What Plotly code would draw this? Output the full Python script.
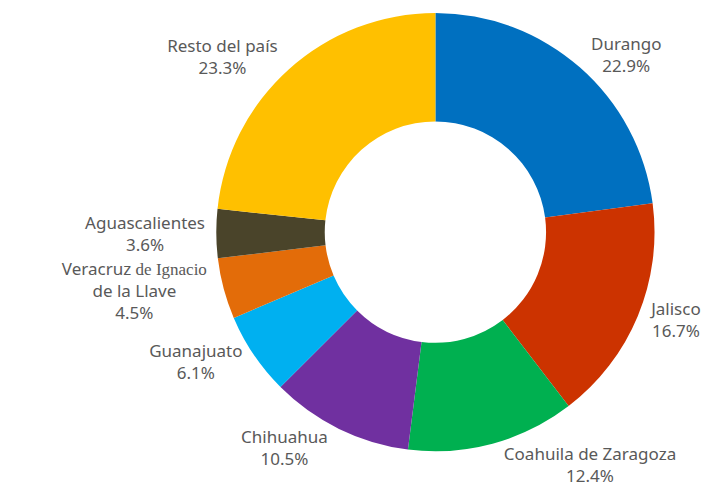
import plotly.graph_objects as go

labels = ["Durango", "Jalisco", "Coahuila de Zaragoza", "Chihuahua", "Guanajuato",
          "Veracruz <span style='font-family:Liberation Serif'>de Ignacio</span><br>de la Llave",
          "Aguascalientes", "Resto del país"]
values = [22.9, 16.7, 12.4, 10.5, 6.1, 4.5, 3.6, 23.3]
colors = ["#0070C0", "#CC3300", "#00B050", "#7030A0", "#00B0F0", "#E36C09", "#4A442A", "#FFC000"]

fig = go.Figure(go.Pie(
    labels=labels, values=values, hole=0.505, sort=False, direction="clockwise",
    rotation=0,
    marker=dict(colors=colors, line=dict(color="white", width=0)),
    textposition="outside",
    texttemplate="%{label}<br>%{value:.1f}%",
    textfont=dict(family="Noto Sans", size=17, color="#595959"),
    showlegend=False,
    domain=dict(x=[0.2804, 0.8954], y=[0.121, 0.994]),
))
fig.update_layout(width=727, height=504, margin=dict(l=0, r=0, t=0, b=0),
                  paper_bgcolor="white", plot_bgcolor="white")
fig.write_html("out.html")
